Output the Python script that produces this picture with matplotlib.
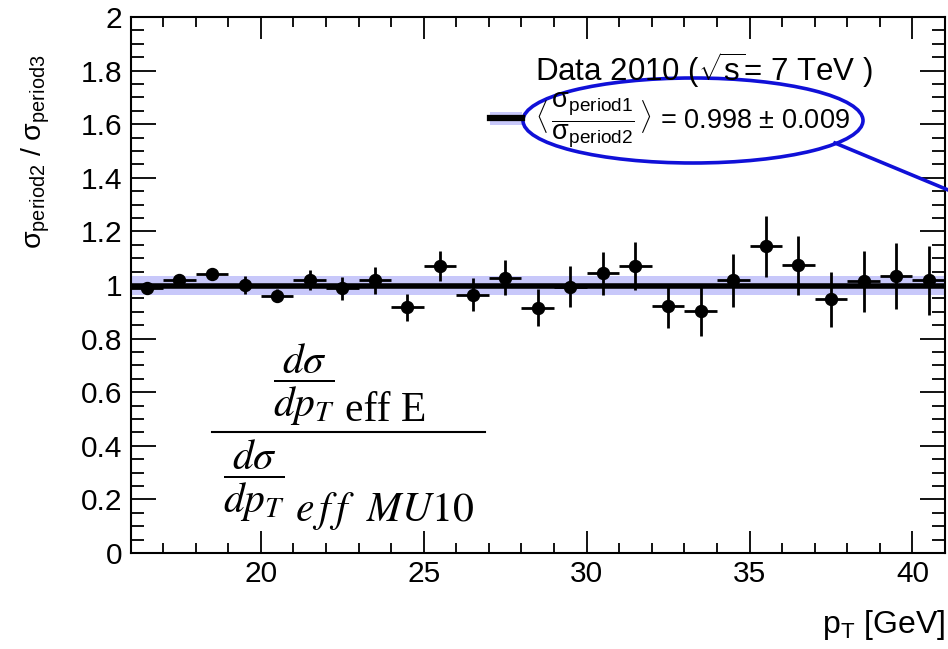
import matplotlib
matplotlib.use("Agg")
import matplotlib.pyplot as plt
from matplotlib.patches import Ellipse, Rectangle
from matplotlib.lines import Line2D
from matplotlib.ticker import MultipleLocator, FormatStrFormatter

# ---------------- data ----------------
pt_centers = [16.5, 17.5, 18.5, 19.5, 20.5, 21.5, 22.5, 23.5, 24.5, 25.5,
              26.5, 27.5, 28.5, 29.5, 30.5, 31.5, 32.5, 33.5, 34.5, 35.5,
              36.5, 37.5, 38.5, 39.5, 40.5]
ratio = [0.990, 1.020, 1.040, 1.000, 0.960, 1.020, 0.987, 1.017, 0.917, 1.070,
         0.964, 1.027, 0.916, 0.994, 1.043, 1.070, 0.921, 0.902, 1.017, 1.144,
         1.074, 0.946, 1.014, 1.035, 1.017]
ratio_err = [0.012, 0.012, 0.015, 0.032, 0.025, 0.037, 0.044, 0.050, 0.050, 0.056,
             0.062, 0.065, 0.070, 0.077, 0.082, 0.090, 0.080, 0.092, 0.100, 0.115,
             0.110, 0.104, 0.114, 0.123, 0.128]
bin_halfwidth = [0.5] * len(pt_centers)
mean_ratio = 0.998
mean_err = 0.009
band_halfwidth = 0.034
x_range = [16, 41]
y_range = [0, 2]

# ---------------- style ----------------
plt.rcParams['font.family'] = ['Liberation Sans', 'DejaVu Sans']
plt.rcParams['mathtext.fontset'] = 'custom'
plt.rcParams['mathtext.rm'] = 'Liberation Sans'
plt.rcParams['mathtext.it'] = 'Liberation Sans:italic'
plt.rcParams['mathtext.bf'] = 'Liberation Sans:bold'

W, H = 948, 649
fig = plt.figure(figsize=(W / 100, H / 100), dpi=100)


def fx(x):
    return x / W


def fy(y):
    return 1 - y / H


ax = fig.add_axes([fx(130.5), fy(553), fx(945) - fx(130.5), fy(17) - fy(553)])
ax.set_xlim(*x_range)
ax.set_ylim(*y_range)

lav = '#c8c8fa'
ax.fill_between(x_range, mean_ratio - band_halfwidth, mean_ratio + band_halfwidth,
                color=lav, lw=0, zorder=1)
ax.axhline(mean_ratio, color='black', lw=4.0, zorder=2)
ax.errorbar(pt_centers, ratio, yerr=ratio_err, xerr=bin_halfwidth, fmt='o',
            color='black', ms=8.6, elinewidth=2.0, capsize=0, zorder=3)

for s in ax.spines.values():
    s.set_linewidth(1.5)
ax.xaxis.set_major_locator(MultipleLocator(5))
ax.xaxis.set_minor_locator(MultipleLocator(1))
ax.yaxis.set_major_locator(MultipleLocator(0.2))
ax.yaxis.set_minor_locator(MultipleLocator(0.05))
ax.yaxis.set_major_formatter(FormatStrFormatter('%g'))
ax.tick_params(which='both', direction='in', top=True, right=True, width=1.3)
ax.tick_params(axis='y', which='major', length=18, pad=6, labelsize=21.5)
ax.tick_params(axis='y', which='minor', length=9.5)
ax.tick_params(axis='x', which='major', length=16, pad=5, labelsize=21.5)
ax.tick_params(axis='x', which='minor', length=7.5)

# axis titles
fig.text(fx(36), fy(152), r'$\mathrm{\sigma}_{\mathrm{period2}}$ / $\mathrm{\sigma}_{\mathrm{period3}}$',
         rotation=90, ha='center', va='center', fontsize=20.5)
fig.text(fx(945), fy(633), r'$\mathrm{p}_{\mathrm{T}}$ [GeV]', ha='right', va='baseline',
         fontsize=23)

# legend
fig.text(fx(535), fy(81), r'Data 2010 ($\sqrt{\mathrm{s}}$= 7 TeV )', ha='left',
         va='baseline', fontsize=22.5)
fig.add_artist(Rectangle((fx(490), fy(125)), fx(522) - fx(490), fy(112) - fy(125),
                         transform=fig.transFigure, color=lav, lw=0))
fig.add_artist(Line2D([fx(490), fx(522)], [fy(118), fy(118)], transform=fig.transFigure,
                      color='black', lw=4.5))
fig.text(fx(535), fy(120),
         r'$\langle\,\dfrac{\mathrm{\sigma}_{\mathrm{period1}}}{\mathrm{\sigma}_{\mathrm{period2}}}\,\rangle$ = 0.998 $\pm$ 0.009',
         ha='left', va='center', fontsize=19.5)

# annotation ellipse and pointer
blue = '#1010d8'
fig.add_artist(Ellipse((fx(693), fy(120.5)), fx(340), 85 / H, transform=fig.transFigure,
                       fill=False, edgecolor=blue, lw=2.6))
fig.add_artist(Line2D([fx(835), fx(965)], [fy(143), fy(197)], transform=fig.transFigure,
                      color=blue, lw=2.6))

# formula
ffs = 30
fig.text(fx(304), fy(385), r'$\dfrac{d\sigma}{dp_T}$', ha='center', va='center',
         fontsize=ffs, math_fontfamily='stix')
fig.text(fx(345), fy(421), 'eff E', ha='left', va='baseline', fontsize=ffs,
         family='Liberation Serif')
fig.add_artist(Line2D([fx(212), fx(485)], [fy(432), fy(432)], transform=fig.transFigure,
                      color='black', lw=1.5))
fig.text(fx(254), fy(481), r'$\dfrac{d\sigma}{dp_T}$', ha='center', va='center',
         fontsize=ffs, math_fontfamily='stix')
fig.text(fx(295), fy(521), r'$e\,f\,f\ \ MU10$', ha='left', va='baseline', fontsize=ffs,
         math_fontfamily='stix')

fig.savefig('out.png', dpi=100)
